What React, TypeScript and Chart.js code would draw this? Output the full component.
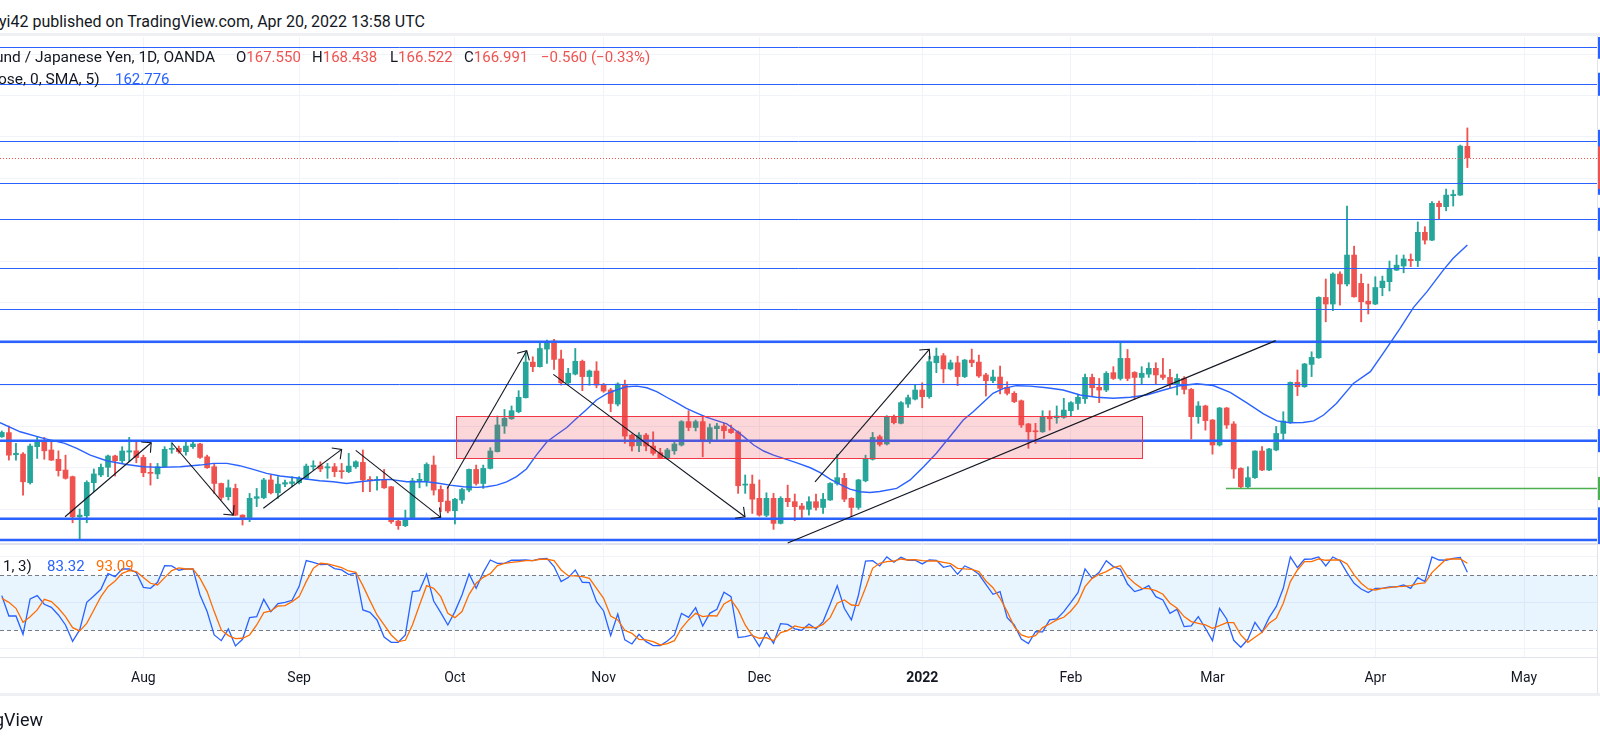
import React, { useEffect, useRef } from 'react';
import { Chart, registerables } from 'chart.js';

Chart.register(...registerables);

// ---------------- data (bar index 0 = Aug 2, 2021; one bar per trading day) ----------------
const FIRST_BAR = -20;

const openP = [
  153.50, 153.70, 152.63, 152.66, 151.28, 153.02, 153.31, 152.86, 152.41, 151.89, 151.57, 149.63, 149.68, 151.28, 151.65, 152.02, 152.57, 152.34, 152.76, 152.82,
  152.50, 151.78, 151.70, 152.05, 152.89, 152.94, 152.78, 153.02, 153.15, 152.53,
  152.05, 151.24, 150.60, 151.00, 149.71, 149.52, 150.52, 150.55, 151.41, 150.79,
  151.21, 151.24, 151.28, 151.49, 152.05, 152.10, 151.99, 152.05, 151.86, 151.81,
  152.05, 152.26, 151.44, 151.39, 151.41, 151.08, 149.42, 149.20, 149.52, 151.37,
  151.37, 152.13, 150.95, 150.39, 149.92, 150.44, 150.92, 151.92, 151.24, 151.97,
  152.78, 154.02, 154.37, 154.71, 155.39, 157.11, 156.89, 157.74, 158.13, 157.26,
  156.11, 156.53, 157.15, 156.41, 156.68, 156.03, 155.76, 155.08, 156.03, 153.58,
  153.07, 153.58, 153.05, 152.73, 152.49, 152.82, 153.10, 154.23, 153.95, 154.23,
  153.31, 153.89, 154.02, 153.86, 153.73, 151.16, 151.21, 150.52, 149.70, 150.52,
  149.31, 150.52, 150.36, 150.15, 149.99, 150.36, 150.08, 150.44, 151.24, 151.49,
  150.52, 150.08, 151.37, 152.41, 153.50, 153.15, 154.44, 154.15, 155.08, 155.32,
  155.76, 155.44, 157.08, 157.42, 156.78, 157.08, 156.41, 157.21, 157.11, 156.49,
  156.21, 156.39, 155.89, 155.60, 155.24, 154.12, 153.79, 153.74, 154.44, 154.42,
  154.44, 154.76, 155.11, 155.34, 156.37, 155.89, 155.76, 156.60, 156.32, 157.29,
  156.61, 156.37, 156.53, 156.81, 156.49, 156.37, 156.05, 156.32, 155.79, 154.47,
  154.99, 154.31, 153.10, 154.89, 154.12, 151.97, 151.08, 151.52, 152.81, 151.89,
  152.86, 153.66, 154.18, 156.13, 155.92, 157.00, 157.32, 160.24, 159.92, 161.37,
  160.89, 162.29, 160.92, 160.06, 159.92, 160.71, 161.00, 161.56, 161.76, 162.08,
  162.02, 163.39, 163.01, 164.79, 164.63, 165.16, 165.19, 167.550,
];

const highP = [
  153.78, 154.02, 153.18, 152.73, 153.15, 153.47, 153.47, 153.26, 152.82, 152.61, 151.60, 150.00, 151.37, 151.94, 152.18, 152.61, 152.61, 153.02, 153.47, 153.26,
  152.61, 152.21, 152.21, 153.02, 153.21, 153.05, 153.31, 153.26, 153.18, 152.61,
  152.21, 151.26, 151.41, 151.21, 149.73, 150.76, 151.00, 151.49, 151.65, 151.57,
  151.41, 151.57, 151.57, 152.18, 152.34, 152.29, 152.21, 152.21, 152.21, 152.70,
  152.34, 152.86, 151.57, 151.57, 151.92, 151.10, 149.47, 149.95, 151.49, 151.73,
  152.24, 152.57, 151.13, 151.08, 150.52, 151.00, 151.94, 152.13, 152.13, 152.97,
  154.50, 154.82, 154.99, 155.73, 157.61, 157.37, 158.05, 158.18, 158.21, 157.69,
  156.81, 157.77, 157.21, 156.73, 157.13, 156.08, 155.84, 156.11, 156.24, 153.63,
  153.70, 153.66, 153.74, 152.94, 152.94, 153.26, 154.28, 154.76, 154.31, 154.47,
  154.12, 154.15, 154.15, 154.07, 153.78, 151.65, 151.65, 151.41, 150.79, 150.76,
  150.60, 151.16, 150.73, 150.28, 150.60, 150.73, 150.76, 151.28, 152.65, 151.73,
  150.55, 151.44, 152.61, 153.71, 153.58, 154.52, 154.55, 155.20, 155.52, 156.00,
  156.11, 157.40, 157.79, 157.53, 157.21, 157.40, 157.24, 157.74, 157.45, 156.57,
  156.73, 156.92, 156.16, 155.68, 155.28, 154.15, 154.15, 154.76, 154.76, 154.99,
  155.36, 155.20, 155.52, 156.53, 156.53, 156.32, 156.65, 156.89, 158.10, 157.72,
  156.65, 156.89, 157.08, 157.08, 157.29, 156.76, 156.53, 156.41, 155.84, 155.20,
  155.03, 154.33, 154.92, 154.92, 154.23, 152.00, 152.05, 152.82, 153.02, 152.94,
  154.00, 154.71, 156.15, 156.73, 157.05, 157.61, 160.27, 161.13, 161.43, 161.48,
  164.66, 162.72, 161.37, 160.89, 161.24, 161.27, 162.00, 162.29, 162.29, 162.34,
  163.89, 163.66, 164.87, 164.90, 165.48, 165.43, 167.61, 168.438,
];

const lowP = [
  153.47, 152.37, 152.37, 150.68, 151.21, 152.45, 152.41, 152.35, 151.60, 151.45, 149.34, 148.53, 149.34, 150.84, 151.57, 151.57, 151.60, 152.21, 152.29, 152.24,
  151.57, 151.16, 151.47, 152.03, 152.70, 152.70, 152.61, 152.94, 152.45, 151.97,
  150.76, 150.44, 150.44, 149.68, 149.23, 149.39, 150.12, 150.50, 150.73, 150.52,
  151.08, 151.08, 151.22, 151.44, 151.89, 151.81, 151.49, 151.57, 151.49, 151.76,
  151.97, 150.84, 150.84, 150.92, 151.00, 149.31, 149.02, 149.15, 149.50, 151.03,
  151.11, 150.68, 149.87, 149.82, 149.28, 150.28, 150.84, 151.16, 151.00, 151.94,
  152.76, 153.66, 154.34, 154.66, 155.37, 156.65, 156.87, 157.05, 156.76, 156.00,
  156.05, 156.49, 155.73, 155.99, 155.87, 155.65, 154.71, 154.99, 153.18, 152.81,
  152.78, 152.82, 152.61, 152.45, 152.41, 152.65, 153.05, 153.79, 153.78, 152.53,
  153.18, 153.37, 153.42, 153.66, 150.76, 150.76, 149.79, 149.66, 149.63, 149.02,
  149.28, 150.12, 149.44, 149.55, 149.71, 149.95, 149.79, 150.42, 151.16, 150.36,
  149.63, 149.99, 151.32, 152.37, 153.05, 153.10, 154.12, 154.12, 154.92, 155.28,
  154.90, 155.36, 156.60, 156.11, 156.73, 155.97, 156.36, 156.89, 156.37, 155.47,
  156.11, 155.57, 155.52, 155.15, 153.95, 152.94, 153.18, 153.71, 153.82, 154.15,
  154.39, 154.50, 154.82, 155.11, 155.44, 155.15, 155.68, 156.27, 156.24, 156.21,
  155.32, 156.05, 156.37, 156.05, 156.27, 155.87, 155.52, 155.57, 153.39, 154.15,
  153.82, 152.66, 153.05, 153.90, 151.49, 151.00, 151.00, 151.49, 151.86, 151.86,
  152.82, 153.31, 154.15, 155.49, 155.89, 156.41, 157.29, 159.06, 159.60, 159.87,
  160.80, 160.25, 159.06, 159.44, 159.89, 160.32, 160.55, 161.54, 161.43, 161.73,
  161.73, 162.82, 162.98, 164.02, 164.43, 164.66, 165.17, 166.522,
];

const closeP = [
  153.71, 152.61, 152.70, 151.32, 153.05, 153.31, 152.82, 152.37, 151.86, 151.49, 149.63, 149.71, 151.29, 151.70, 152.02, 152.57, 152.34, 152.81, 152.82, 152.49,
  151.76, 151.73, 152.05, 152.89, 152.94, 152.78, 153.05, 153.15, 152.50, 152.00,
  151.24, 150.57, 151.03, 149.71, 149.52, 150.52, 150.60, 151.41, 150.79, 151.21,
  151.28, 151.32, 151.49, 152.08, 152.10, 151.94, 152.05, 151.81, 151.81, 152.08,
  152.29, 151.41, 151.37, 151.44, 151.03, 149.39, 149.20, 149.52, 151.37, 151.44,
  152.16, 150.92, 150.36, 149.91, 150.48, 150.95, 151.92, 151.24, 151.97, 152.81,
  154.07, 154.39, 154.76, 155.41, 157.11, 156.89, 157.77, 158.10, 157.24, 156.11,
  156.57, 157.15, 156.41, 156.68, 156.00, 155.71, 155.11, 156.05, 153.53, 153.05,
  153.58, 153.05, 152.70, 152.49, 152.86, 153.15, 154.23, 153.95, 154.23, 153.31,
  153.94, 154.02, 153.79, 153.70, 151.13, 151.21, 150.48, 149.71, 150.52, 149.31,
  150.52, 150.36, 150.12, 149.99, 150.36, 150.08, 150.48, 151.24, 151.52, 150.48,
  150.08, 151.41, 152.41, 153.47, 153.13, 154.47, 154.18, 155.15, 155.39, 155.76,
  155.44, 157.13, 157.40, 156.78, 157.08, 156.41, 157.21, 157.08, 156.44, 156.21,
  156.39, 155.84, 155.60, 155.20, 154.07, 153.74, 153.74, 154.44, 154.37, 154.50,
  154.79, 155.15, 155.41, 156.37, 155.87, 155.76, 156.57, 156.32, 157.29, 156.32,
  156.37, 156.57, 156.81, 156.49, 156.37, 156.05, 156.32, 155.79, 154.47, 154.99,
  154.28, 153.10, 154.89, 154.07, 151.94, 151.08, 151.52, 152.81, 151.89, 152.91,
  153.66, 154.26, 156.13, 155.92, 157.02, 157.34, 160.24, 159.92, 161.37, 160.89,
  162.29, 160.27, 160.03, 159.92, 160.72, 161.03, 161.61, 161.80, 162.10, 162.02,
  163.39, 163.01, 164.79, 164.63, 165.19, 165.22, 167.56, 166.991,
];

// moving average: bar index / value
const maIdx = [
  -20.25, -17.4, -14.1, -11.1, -9.4, -7.5, -5.2, -2.4, 0, 2.3, 5.2, 8.0, 9.9, 11.8, 13.6, 15.5, 17.4, 19.3, 22.1, 24.9,
  26.8, 28.7, 30.6, 32.9, 34.8, 37.2, 40.0, 41.9, 43.3, 45.2, 47.1, 48.5, 49.9, 51.3, 52.7, 54.1, 55.5, 57.0, 58.4, 59.8,
  61.2, 62.6, 64.0, 65.4, 66.8, 68.2, 69.7, 71.1, 72.5, 73.9, 75.3, 76.7, 78.1, 79.6, 81.0, 82.4, 83.3, 84.7, 86.2, 87.6,
  89.0, 90.4, 92.3, 94.2, 95.6, 97.0, 98.4, 99.8, 101.2, 102.6, 104.0, 106.4, 108.3, 110.2, 112.0, 113.9, 115.8, 117.2, 118.6, 120.0,
  121.5, 123.3, 125.2, 127.6, 129.9, 132.3, 134.6, 137.0, 139.4, 141.7, 144.1, 146.4, 148.8, 151.1, 153.5, 155.8, 158.2, 160.1, 161.9, 163.8,
  165.3, 166.7, 168.5, 170.9, 173.3, 175.1, 177.5, 179.4, 181.3, 183.6, 185.0, 187.0,
];
const maVal = [
  154.18, 153.74, 153.42, 153.18, 152.94, 152.61, 152.34, 152.16, 152.05, 152.02, 152.05, 152.13, 152.21, 152.21, 152.10, 151.92, 151.73, 151.60, 151.49, 151.37,
  151.32, 151.24, 151.32, 151.41, 151.44, 151.32, 151.32, 151.24, 151.16, 151.08, 151.05, 151.08, 151.16, 151.32, 151.57, 151.94, 152.61, 153.26, 153.61, 153.95,
  154.39, 154.82, 155.28, 155.57, 155.76, 155.92, 155.95, 155.87, 155.68, 155.41, 155.15, 154.87, 154.66, 154.44, 154.28, 154.12, 153.90, 153.53, 153.10, 152.81,
  152.61, 152.45, 152.24, 152.00, 151.76, 151.45, 151.20, 150.97, 150.84, 150.80, 150.85, 151.00, 151.41, 152.05, 152.70, 153.50, 154.31, 154.71, 155.16, 155.60,
  155.84, 155.97, 155.95, 155.87, 155.76, 155.52, 155.41, 155.36, 155.41, 155.52, 155.76, 155.97, 156.06, 155.98, 155.65, 155.15, 154.61, 154.27, 154.18, 154.19,
  154.27, 154.55, 155.11, 156.08, 156.65, 157.53, 158.74, 159.76, 160.52, 161.56, 162.13, 162.776,
];

// stochastic %K and %D, one value per bar (same bars as the candles)
const stochK = [
  57.8, 35.6, 35.6, 15.6, 54.2, 57.8, 48.4, 45.1, 36.7, 25.8, 8.0, 20.4, 50.5, 57.5, 64.7, 81.8, 78.5, 86.9, 86.9, 82.9,
  66.9, 65.8, 72.4, 90.5, 90.2, 85.5, 86.9, 86.9, 58.5, 40.4,
  14.9, 8.7, 21.5, 2.9, 10.2, 33.8, 34.9, 53.8, 40.4, 49.1,
  50.5, 52.7, 68.0, 96.0, 94.2, 91.6, 92.0, 87.3, 85.8, 80.7,
  82.5, 42.2, 39.6, 31.3, 12.7, 6.9, 6.9, 14.9, 62.2, 63.3,
  81.5, 52.0, 39.3, 25.8, 40.4, 58.5, 81.5, 65.8, 82.9, 96.7,
  93.1, 93.1, 96.4, 96.4, 96.7, 96.0, 97.8, 98.5, 89.5, 73.1,
  77.5, 85.8, 72.4, 72.0, 51.3, 41.1, 14.2, 37.8, 9.5, 5.1,
  15.6, 7.6, 3.3, 3.3, 8.4, 14.9, 38.5, 34.2, 44.7, 24.7,
  38.5, 42.9, 61.5, 56.7, 12.0, 13.1, 14.9, 2.5, 17.8, 5.8,
  27.3, 26.5, 21.5, 20.0, 26.9, 21.5, 29.5, 48.4, 68.7, 44.0,
  31.3, 58.5, 95.6, 96.0, 90.2, 100.0, 94.2, 99.6, 96.4, 96.4,
  92.4, 96.7, 96.4, 88.7, 90.5, 81.1, 90.2, 86.9, 81.1, 70.2,
  59.3, 62.2, 33.8, 25.8, 10.5, 5.5, 18.5, 18.2, 31.3, 32.4,
  40.4, 50.5, 61.1, 86.9, 76.7, 83.3, 96.0, 89.5, 86.5, 70.5,
  62.2, 64.7, 68.7, 56.7, 53.1, 38.5, 42.9, 24.0, 24.7, 34.9,
  22.2, 8.7, 44.0, 32.4, 9.1, 1.5, 10.2, 28.7, 17.8, 33.8,
  45.8, 65.8, 100.0, 88.4, 97.5, 97.8, 100.0, 90.2, 100.0, 96.0,
  82.9, 71.3, 65.1, 61.1, 65.8, 65.8, 67.3, 67.3, 69.5, 65.8,
  77.5, 73.1, 100.0, 96.7, 96.4, 98.5, 99.6, 83.32,
];
const stochD = [
  54.9, 50.5, 44.0, 28.7, 34.9, 42.2, 53.8, 51.3, 44.0, 34.9, 22.9, 19.3, 27.6, 42.2, 56.7, 67.6, 73.8, 82.2, 85.1, 84.0,
  77.5, 71.3, 69.5, 77.5, 85.1, 88.0, 86.9, 86.9, 76.7, 62.2,
  40.4, 20.4, 14.2, 10.9, 11.3, 14.9, 25.8, 39.3, 41.1, 46.5,
  46.9, 51.3, 56.7, 73.1, 87.6, 93.1, 92.4, 90.5, 88.4, 84.7,
  83.3, 68.7, 52.4, 36.7, 25.8, 14.9, 7.6, 9.1, 25.8, 47.6,
  68.7, 65.8, 56.7, 38.5, 33.8, 40.4, 59.3, 71.3, 77.8, 81.8,
  90.5, 93.1, 94.2, 94.9, 96.0, 96.0, 97.5, 97.5, 96.0, 85.8,
  79.6, 79.3, 78.5, 76.7, 65.8, 54.9, 35.6, 31.3, 20.0, 16.7,
  10.2, 9.5, 7.6, 4.0, 5.5, 8.7, 22.2, 31.3, 38.5, 34.9,
  36.0, 35.6, 48.7, 53.1, 42.2, 25.8, 14.2, 11.3, 12.0, 8.7,
  17.5, 19.6, 24.7, 22.9, 23.3, 22.9, 26.5, 33.8, 49.5, 53.1,
  47.6, 46.9, 66.5, 87.6, 93.1, 94.9, 95.6, 97.8, 96.7, 97.1,
  96.0, 95.6, 95.6, 94.2, 92.7, 87.6, 86.9, 86.5, 84.0, 73.8,
  66.5, 54.9, 40.4, 24.0, 14.9, 12.4, 14.2, 22.9, 26.9, 31.3,
  34.2, 41.1, 50.5, 67.6, 76.7, 81.1, 84.0, 88.4, 90.5, 78.5,
  71.3, 65.8, 65.5, 63.3, 59.3, 49.5, 44.0, 34.9, 29.5, 27.6,
  25.8, 22.2, 25.1, 28.4, 28.4, 14.9, 6.9, 12.4, 17.8, 27.6,
  33.1, 49.5, 73.1, 85.8, 94.9, 94.9, 97.8, 96.4, 96.7, 96.7,
  92.4, 80.4, 71.3, 65.1, 64.0, 65.8, 66.5, 67.6, 68.0, 68.7,
  70.9, 71.6, 82.9, 90.5, 97.5, 97.8, 97.8, 93.09,
];

// time axis: first bar of each month
const monthIdx = [0, 22, 44, 65, 87, 110, 131, 151, 174, 195];
const monthLabels = ['Aug', 'Sep', 'Oct', 'Nov', 'Dec', '2022', 'Feb', 'Mar', 'Apr', 'May'];

const priceTicks = [150, 152, 154, 156, 158, 160, 162, 164, 166, 168, 170, 172];
const stochTicks = [0, 50, 100];
const stochBands = [20, 80];

// drawings
const thinLevels = [172.34, 170.55, 167.79, 165.76, 164.02, 161.65, 159.66, 156.04];
const thickLevels = [158.10, 153.31, 149.53, 148.50];
const supportLevel = 151.0;
const supportFromIdx = 152.9;
const lastClose = 166.991;
const zoneFromIdx = 44.1;
const zoneToIdx = 141.0;
const zoneTop = 154.52;
const zoneBottom = 152.47;
const arrowFromIdx = [-11.07, 4.0, 16.94, 29.99, 42.92, 57.9, 94.86];
const arrowFromPrice = [149.63, 153.21, 150.04, 152.84, 151.0, 156.52, 151.32];
const arrowToIdx = [1.10, 12.70, 28.0, 41.99, 54.14, 84.97, 111.0];
const arrowToPrice = [153.21, 149.71, 152.89, 149.60, 157.66, 149.63, 157.73];
const trendFromIdx = 91.0;
const trendFromPrice = 148.36;
const trendToIdx = 159.93;
const trendToPrice = 158.15;

// ---------------- styling / layout ----------------
const UP = '#26a69a';
const DOWN = '#ef5350';
const BLUE = '#2962ff';
const ORANGE = '#ff6d00';
const GRID = '#f0f3fa';
const TEXT = '#131722';
const FONT = 'Roboto, "Noto Sans", sans-serif';

const X_MIN = -20.254;
const X_MAX = 205.31;
const P_MIN = 148.312;
const P_MAX = 172.837;
const S_MIN = -9.9;
const S_MAX = 114.15;

const MAIN_TOP = 37;
const MAIN_H = 507;
const STOCH_TOP = 544;
const STOCH_H = 198;
const STOCH_PLOT_H = 113.7;

const mainPlugin = {
  id: 'mainDrawings',
  afterDatasetsDraw(chart: any) {
    const { ctx, chartArea: a } = chart;
    const xs = chart.scales.x;
    const ys = chart.scales.y;
    const px = (i: number) => xs.getPixelForValue(i);
    const py = (p: number) => ys.getPixelForValue(p);

    ctx.save();
    ctx.beginPath();
    ctx.rect(a.left, a.top, a.right - a.left, a.bottom - a.top);
    ctx.clip();

    const hline = (p: number, color: string, width: number, dash: number[], fromIdx?: number) => {
      let y = py(p);
      if (width === 1) y = Math.round(y) + 0.5;
      ctx.beginPath();
      ctx.setLineDash(dash);
      ctx.strokeStyle = color;
      ctx.lineWidth = width;
      ctx.moveTo(fromIdx === undefined ? a.left : px(fromIdx), y);
      ctx.lineTo(a.right, y);
      ctx.stroke();
    };
    hline(lastClose, DOWN, 1, [1, 2]);
    thinLevels.forEach((p) => hline(p, BLUE, 1, []));
    thickLevels.forEach((p) => hline(p, BLUE, 2.5, []));
    hline(supportLevel, '#4caf50', 1.5, [], supportFromIdx);
    ctx.setLineDash([]);

    // zone rectangle
    const zx1 = Math.round(px(zoneFromIdx));
    const zx2 = Math.round(px(zoneToIdx));
    const zy1 = Math.round(py(zoneTop));
    const zy2 = Math.round(py(zoneBottom));
    ctx.fillStyle = 'rgba(242,54,69,0.2)';
    ctx.fillRect(zx1, zy1, zx2 - zx1, zy2 - zy1);
    ctx.strokeStyle = '#f23645';
    ctx.lineWidth = 1;
    ctx.strokeRect(zx1 + 0.5, zy1 + 0.5, zx2 - zx1, zy2 - zy1);

    // arrows
    ctx.strokeStyle = TEXT;
    ctx.lineWidth = 1.1;
    arrowFromIdx.forEach((_, k) => {
      const x1 = px(arrowFromIdx[k]);
      const y1 = py(arrowFromPrice[k]);
      const x2 = px(arrowToIdx[k]);
      const y2 = py(arrowToPrice[k]);
      ctx.beginPath();
      ctx.moveTo(x1, y1);
      ctx.lineTo(x2, y2);
      ctx.stroke();
      const ang = Math.atan2(y2 - y1, x2 - x1);
      const L = 10;
      const spread = Math.PI / 4;
      ctx.beginPath();
      ctx.moveTo(x2 - L * Math.cos(ang - spread), y2 - L * Math.sin(ang - spread));
      ctx.lineTo(x2, y2);
      ctx.lineTo(x2 - L * Math.cos(ang + spread), y2 - L * Math.sin(ang + spread));
      ctx.stroke();
    });

    // trend line
    ctx.beginPath();
    ctx.moveTo(px(trendFromIdx), py(trendFromPrice));
    ctx.lineTo(px(trendToIdx), py(trendToPrice));
    ctx.stroke();
    ctx.restore();

    // price-scale markers at the right edge
    ctx.save();
    const mark = (p: number, color: string, up: number, down: number) => {
      const y = py(p);
      ctx.fillStyle = color;
      ctx.fillRect(a.right, y - up, chart.width - a.right, up + down);
    };
    [...thinLevels, ...thickLevels].forEach((p) => mark(p, BLUE, 11.5, 11.5));
    mark(supportLevel, '#4caf50', 11.5, 11.5);
    mark(lastClose, DOWN, 11.5, 31);
    ctx.restore();
  },
};

const stochPlugin = {
  id: 'stochBands',
  beforeDatasetsDraw(chart: any) {
    const { ctx, chartArea: a } = chart;
    const ys = chart.scales.y;
    const yHi = ys.getPixelForValue(stochBands[1]);
    const yLo = ys.getPixelForValue(stochBands[0]);
    ctx.save();
    ctx.fillStyle = 'rgba(33,150,243,0.1)';
    ctx.fillRect(a.left, yHi, a.right - a.left, yLo - yHi);
    ctx.strokeStyle = '#787b86';
    ctx.lineWidth = 1;
    ctx.setLineDash([4, 3]);
    [yHi, yLo].forEach((y) => {
      const yy = Math.round(y) + 0.5;
      ctx.beginPath();
      ctx.moveTo(a.left, yy);
      ctx.lineTo(a.right, yy);
      ctx.stroke();
    });
    ctx.restore();
  },
};

export default function App() {
  const mainRef = useRef<HTMLCanvasElement | null>(null);
  const stochRef = useRef<HTMLCanvasElement | null>(null);

  useEffect(() => {
    const bars = openP.map((_, k) => FIRST_BAR + k);
    const colors = bars.map((_, k) => (closeP[k] >= openP[k] ? UP : DOWN));

    const main = new Chart(mainRef.current as HTMLCanvasElement, {
      type: 'bar',
      data: {
        datasets: [
          {
            type: 'line',
            label: 'MA',
            data: maIdx.map((x, k) => ({ x, y: maVal[k] })),
            borderColor: BLUE,
            borderWidth: 1.4,
            pointRadius: 0,
            tension: 0,
            order: 0,
          } as any,
          {
            type: 'bar',
            label: 'body',
            data: bars.map((x, k) => ({ x, y: [openP[k], closeP[k]] })),
            backgroundColor: colors,
            borderWidth: 0,
            barThickness: 5,
            minBarLength: 1,
            grouped: false,
            order: 1,
          } as any,
          {
            type: 'bar',
            label: 'wick',
            data: bars.map((x, k) => ({ x, y: [lowP[k], highP[k]] })),
            backgroundColor: colors,
            borderWidth: 0,
            barThickness: 1.2,
            grouped: false,
            order: 2,
          } as any,
        ],
      },
      options: {
        responsive: false,
        animation: false,
        events: [],
        layout: { padding: { left: 0, right: 3, top: 0, bottom: 0 }, autoPadding: false },
        plugins: { legend: { display: false }, tooltip: { enabled: false } },
        scales: {
          x: {
            type: 'linear',
            min: X_MIN,
            max: X_MAX,
            offset: false,
            grid: { color: GRID, offset: false, drawTicks: false },
            border: { display: false },
            ticks: { display: false },
            afterBuildTicks: (s: any) => {
              s.ticks = monthIdx.map((v) => ({ value: v }));
            },
            afterFit: (s: any) => {
              s.height = 0;
            },
          },
          y: {
            type: 'linear',
            position: 'right',
            min: P_MIN,
            max: P_MAX,
            grid: { color: GRID, drawTicks: false },
            border: { display: false },
            ticks: { display: false },
            afterBuildTicks: (s: any) => {
              s.ticks = priceTicks.map((v) => ({ value: v }));
            },
            afterFit: (s: any) => {
              s.width = 0;
            },
          },
        },
      } as any,
      plugins: [mainPlugin],
    });

    const stoch = new Chart(stochRef.current as HTMLCanvasElement, {
      type: 'line',
      data: {
        datasets: [
          {
            label: '%D',
            data: stochD.map((v, k) => ({ x: FIRST_BAR + k, y: v })),
            borderColor: ORANGE,
            borderWidth: 1.3,
            pointRadius: 0,
            order: 0,
          },
          {
            label: '%K',
            data: stochK.map((v, k) => ({ x: FIRST_BAR + k, y: v })),
            borderColor: BLUE,
            borderWidth: 1.3,
            pointRadius: 0,
            order: 1,
          },
        ],
      },
      options: {
        responsive: false,
        animation: false,
        events: [],
        layout: { padding: { left: 0, right: 3, top: 0, bottom: 0 }, autoPadding: false },
        plugins: { legend: { display: false }, tooltip: { enabled: false } },
        scales: {
          x: {
            type: 'linear',
            min: X_MIN,
            max: X_MAX,
            offset: false,
            grid: { color: GRID, offset: false, drawTicks: false },
            border: { display: true, color: '#e0e3eb', width: 1 },
            ticks: {
              display: true,
              autoSkip: false,
              maxRotation: 0,
              minRotation: 0,
              padding: 12,
              color: TEXT,
              font: (c: any) => ({
                family: FONT,
                size: 14,
                weight: monthLabels[c.index] === '2022' ? 'bold' : 'normal',
              }),
              callback: (_v: any, i: number) => monthLabels[i],
            },
            afterBuildTicks: (s: any) => {
              s.ticks = monthIdx.map((v) => ({ value: v }));
            },
            afterFit: (s: any) => {
              s.height = STOCH_H - STOCH_PLOT_H;
            },
          },
          y: {
            type: 'linear',
            position: 'right',
            min: S_MIN,
            max: S_MAX,
            grid: { color: GRID, drawTicks: false },
            border: { display: false },
            ticks: { display: false },
            afterBuildTicks: (s: any) => {
              s.ticks = stochTicks.map((v) => ({ value: v }));
            },
            afterFit: (s: any) => {
              s.width = 0;
            },
          },
        },
      } as any,
      plugins: [stochPlugin],
    });

    return () => {
      main.destroy();
      stoch.destroy();
    };
  }, []);

  const abs = (extra: any) => ({
    position: 'absolute' as const,
    whiteSpace: 'nowrap' as const,
    lineHeight: '20px',
    pointerEvents: 'none' as const,
    ...extra,
  });

  return (
    <div
      style={{
        position: 'fixed',
        left: 0,
        top: 0,
        width: 1600,
        height: 742,
        background: '#ffffff',
        overflow: 'hidden',
        fontFamily: FONT,
        color: TEXT,
      }}
    >
      {/* frame lines */}
      <div style={{ position: 'absolute', left: 0, top: 33, width: 1600, height: 3, background: '#eef0f4' }} />
      <div style={{ position: 'absolute', left: 0, top: 543, width: 1600, height: 2, background: '#e0e3eb' }} />
      <div style={{ position: 'absolute', left: 0, top: 693, width: 1600, height: 3, background: '#eef0f4' }} />

      <canvas
        ref={mainRef}
        width={1600}
        height={MAIN_H}
        style={{ position: 'absolute', left: 0, top: MAIN_TOP, width: 1600, height: MAIN_H, display: 'block' }}
      />
      <canvas
        ref={stochRef}
        width={1600}
        height={STOCH_H}
        style={{ position: 'absolute', left: 0, top: STOCH_TOP + 0, width: 1600, height: STOCH_H, display: 'block' }}
      />
      <div style={{ position: 'absolute', left: 1597, top: 36, width: 1, height: 657, background: '#e0e3eb' }} />

      {/* header */}
      <div style={abs({ left: -1, top: 12, fontSize: 16 })}>yi42 published on TradingView.com, Apr 20, 2022 13:58 UTC</div>

      {/* main legend */}
      <div style={abs({ left: -5, top: 47, fontSize: 15.5 })}>und / Japanese Yen, 1D, OANDA</div>
      <div style={abs({ left: 236, top: 47, fontSize: 15 })}>
        O<span style={{ color: DOWN }}>167.550</span>
      </div>
      <div style={abs({ left: 312, top: 47, fontSize: 15 })}>
        H<span style={{ color: DOWN }}>168.438</span>
      </div>
      <div style={abs({ left: 390, top: 47, fontSize: 15 })}>
        L<span style={{ color: DOWN }}>166.522</span>
      </div>
      <div style={abs({ left: 464, top: 47, fontSize: 15 })}>
        C<span style={{ color: DOWN }}>166.991</span>
      </div>
      <div style={abs({ left: 541, top: 47, fontSize: 15, color: DOWN })}>−0.560 (−0.33%)</div>

      <div style={abs({ left: -2, top: 69, fontSize: 15.5 })}>ose, 0, SMA, 5)</div>
      <div style={abs({ left: 115, top: 69, fontSize: 15, color: BLUE })}>162.776</div>

      {/* stochastic legend */}
      <div style={abs({ left: 3, top: 556, fontSize: 15 })}>1, 3)</div>
      <div style={abs({ left: 47, top: 556, fontSize: 15, color: BLUE })}>83.32</div>
      <div style={abs({ left: 96, top: 556, fontSize: 15, color: ORANGE })}>93.09</div>

      {/* footer brand */}
      <div style={abs({ left: -6, top: 709, fontSize: 18, lineHeight: '22px' })}>gView</div>
    </div>
  );
}
